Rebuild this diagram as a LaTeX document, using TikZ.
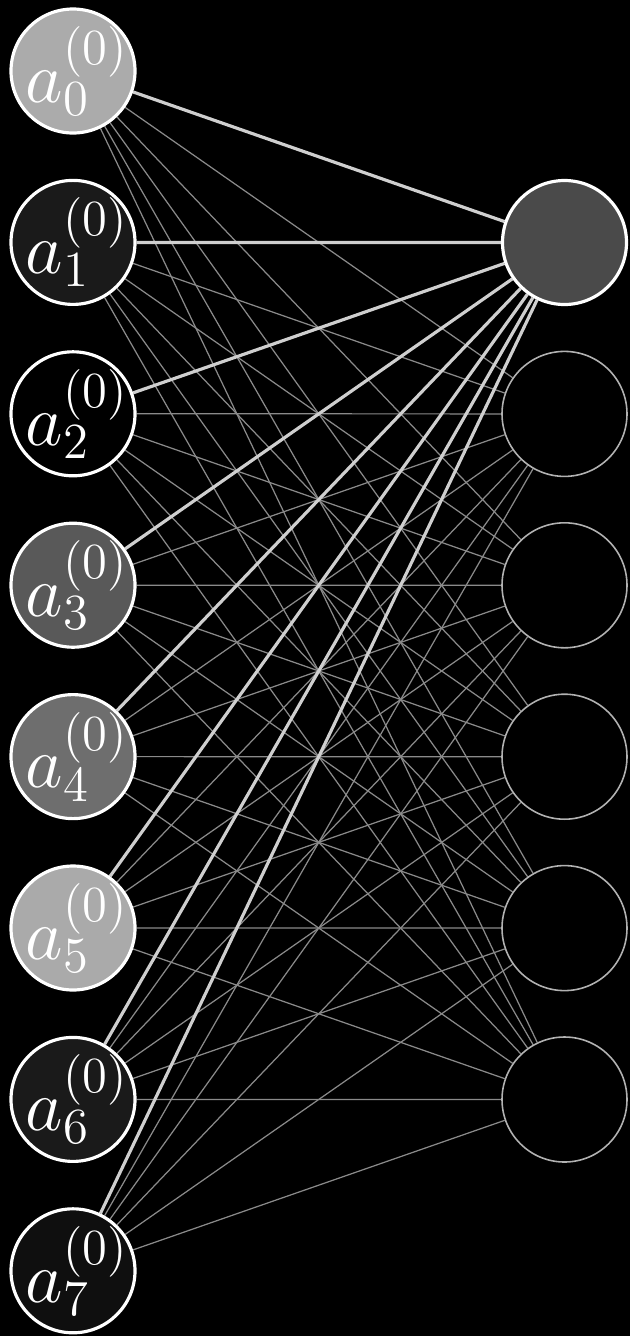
\documentclass[tikz,border=0pt]{standalone}
\usepackage{tikz}
\usetikzlibrary{positioning,backgrounds}

\definecolor{wire}{HTML}{8A8A8A}
\definecolor{hotwire}{HTML}{CFCFCF}

\begin{document}
\begin{tikzpicture}[
  neuron/.style={circle, draw=white, line width=0.9pt, minimum size=1.24cm, inner sep=-6pt, text=white,
    font=\fontsize{20}{22}\selectfont},
  idle/.style={circle, draw=white!70!black, line width=0.45pt, minimum size=1.25cm, inner sep=0pt, fill=black},
  thin/.style={draw=wire, line width=0.35pt},
  thick/.style={draw=hotwire, line width=0.9pt}]
  \useasboundingbox (0,0) rectangle (6.3,-13.36);
  % input layer
  \foreach \i/\shade in {0/ABABAB, 1/1A1A1A, 2/000000, 3/595959, 4/6E6E6E, 5/AAAAAA, 6/1A1A1A, 7/0F0F0F} {
    \definecolor{act\i}{HTML}{\shade}
    \node[neuron, fill=act\i] (in\i) at (0.73,-0.71-1.714*\i) {$\mkern2mu a_{\i}^{(0)}$};
  }
  % hidden layer
  \definecolor{hot}{HTML}{4A4A4A}
  \node[neuron, fill=hot] (h0) at (5.645,-2.425) {};
  \foreach \j in {1,...,5}
    \node[idle] (h\j) at (5.645,-2.425-1.714*\j) {};
  % weights
  \begin{pgfonlayer}{background}
    \fill[black] (0,0) rectangle (6.3,-13.36);
    \foreach \i in {0,...,7}
      \foreach \j in {1,...,5}
        \draw[thin] (in\i) -- (h\j);
    \foreach \i in {0,...,7}
      \draw[thick] (in\i) -- (h0);
  \end{pgfonlayer}
\end{tikzpicture}
\end{document}
